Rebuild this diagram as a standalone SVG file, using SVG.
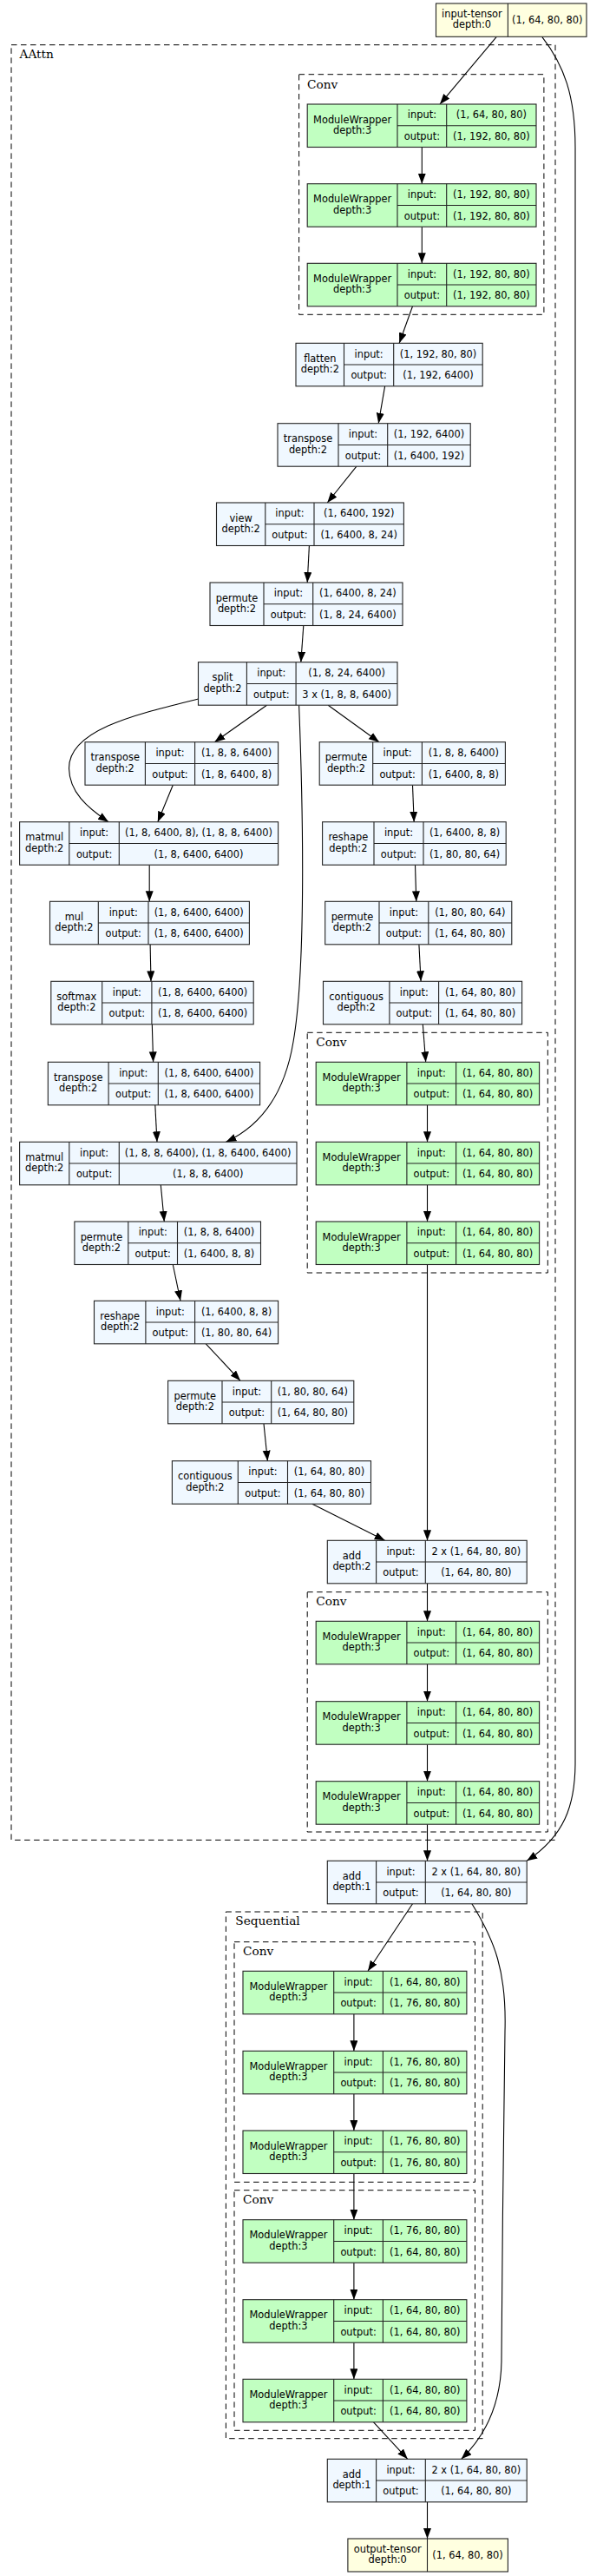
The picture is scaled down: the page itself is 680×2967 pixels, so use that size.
<svg xmlns="http://www.w3.org/2000/svg" width="680" height="2967" viewBox="0 0 680 2967">
<style>
.bg{fill:#ffffff}
.cl{fill:none;stroke:#000;stroke-width:1;stroke-dasharray:6.5,4.5}
.clt{font-family:"DejaVu Serif","Liberation Serif",serif;font-size:13.7px;fill:#000}
.nb{stroke:#222;stroke-width:1.1}
.fn{fill:#F0F8FF}
.md{fill:#C1FFC1}
.tn{fill:#FFFFE0}
.sep{stroke:#222;stroke-width:1.1}
text.t{font-family:"DejaVu Sans","Liberation Sans",sans-serif;font-size:11.4px;fill:#000;text-anchor:middle}
.e{fill:none;stroke:#000;stroke-width:1.1;marker-end:url(#ah)}
</style>
<defs>
<marker id="ah" markerUnits="userSpaceOnUse" markerWidth="12" markerHeight="10" refX="12" refY="4.5" orient="auto">
<polygon points="0,0 12,4.5 0,9" fill="#000"/>
</marker>
</defs>
<rect class="bg" x="0" y="0" width="680" height="2967"/>

<g id="clusters">
<g id="cl_aattn"><rect class="cl" x="13" y="51.7" width="627" height="2067.6"/><text class="clt" x="22.6" y="66.7">AAttn</text></g>
<g id="cl_conv1"><rect class="cl" x="344.6" y="85.7" width="282.3" height="276.6"/><text class="clt" x="354" y="101.7">Conv</text></g>
<g id="cl_conv2"><rect class="cl" x="354.2" y="1189.3" width="277.1" height="276.7"/><text class="clt" x="364.2" y="1205">Conv</text></g>
<g id="cl_conv3"><rect class="cl" x="354.2" y="1833.7" width="277.1" height="276.3"/><text class="clt" x="364.2" y="1849.3">Conv</text></g>
<g id="cl_seq"><rect class="cl" x="260.4" y="2202" width="295.8" height="606.7"/><text class="clt" x="271.3" y="2217.3">Sequential</text></g>
<g id="cl_conv4"><rect class="cl" x="270" y="2236.7" width="277.5" height="276.6"/><text class="clt" x="280" y="2251.7">Conv</text></g>
<g id="cl_conv5"><rect class="cl" x="270" y="2522.7" width="277.5" height="276.6"/><text class="clt" x="280" y="2538.3">Conv</text></g>
</g>

<g id="connectors">
<path class="e" d="M572.3,42.3 L507,120"/>
<path class="e" d="M624.7,42.3 C650,75 663,110 663,170 L663,2030 C663,2080 650,2115 607.2,2143.3"/>
<path class="e" d="M486.3,169.3 L486.3,211.7"/>
<path class="e" d="M486.3,261.2 L486.3,303.3"/>
<path class="e" d="M475.5,352.8 L460.2,395.3"/>
<path class="e" d="M443.6,444.8 L436.2,487.7"/>
<path class="e" d="M410.9,537.2 L377.3,579"/>
<path class="e" d="M356.4,628.5 L354.2,671"/>
<path class="e" d="M349.8,720.5 L346.8,762.7"/>
<path class="e" d="M228.5,805 C160,822 79,840 79.5,885 C80,912 100,930 125.1,946.7"/>
<path class="e" d="M307.5,812.2 L247.3,854.7"/>
<path class="e" d="M344.6,812.2 C350,950 352,1120 338,1200 C328,1260 300,1297 260.4,1315.3"/>
<path class="e" d="M378.2,812.2 L437,854.7"/>
<path class="e" d="M199.3,904.2 L181.8,946.7"/>
<path class="e" d="M475.5,904.2 L477.2,946.7"/>
<path class="e" d="M172.2,996.2 L172.2,1038.3"/>
<path class="e" d="M478.5,996.2 L479.8,1038.3"/>
<path class="e" d="M173.1,1087.8 L174,1130.3"/>
<path class="e" d="M482.9,1087.8 L485.1,1130.3"/>
<path class="e" d="M175.3,1179.8 L176.6,1223.3"/>
<path class="e" d="M487.3,1179.8 L490.7,1223.3"/>
<path class="e" d="M178.8,1272.8 L181,1315.3"/>
<path class="e" d="M492.5,1272.8 L492.5,1315.3"/>
<path class="e" d="M492.5,1364.8 L492.5,1407"/>
<path class="e" d="M185.3,1364.8 L189.3,1407"/>
<path class="e" d="M199.3,1456.5 L208,1498.3"/>
<path class="e" d="M237.3,1547.8 L277,1590.3"/>
<path class="e" d="M304,1639.8 L308.4,1682.7"/>
<path class="e" d="M359.9,1732.2 L443.6,1774.3"/>
<path class="e" d="M492.5,1456.5 L492.5,1774.3"/>
<path class="e" d="M492.5,1823.8 L492.5,1867.3"/>
<path class="e" d="M492.5,1916.8 L492.5,1959.7"/>
<path class="e" d="M492.5,2009.2 L492.5,2051.7"/>
<path class="e" d="M492.5,2101.2 L492.5,2143.3"/>
<path class="e" d="M475.5,2192.8 L424,2270.3"/>
<path class="e" d="M543.9,2192.8 C570,2235 584,2270 582,2340 C580,2450 579,2600 578,2720 C577,2770 560,2805 531.7,2832.3"/>
<path class="e" d="M407.9,2319.8 L407.9,2362.3"/>
<path class="e" d="M407.9,2411.8 L407.9,2454"/>
<path class="e" d="M407.9,2503.5 L407.9,2556.7"/>
<path class="e" d="M407.9,2606.2 L407.9,2648.7"/>
<path class="e" d="M407.9,2698.2 L407.9,2740.3"/>
<path class="e" d="M430.5,2789.8 L469.8,2832.3"/>
<path class="e" d="M492.5,2881.8 L492.5,2924"/>
</g>

<g id="n_input">
<rect class="nb tn" x="502.5" y="4" width="173.5" height="38.3"/>
<line class="sep" x1="585.4" y1="4" x2="585.4" y2="42.3"/>
<text class="t" x="543.9" y="19.9">input-tensor</text><text class="t" x="543.9" y="32.4">depth:0</text>
<text class="t" x="630.7" y="26.9">(1, 64, 80, 80)</text>
</g>

<g id="n_c1_mw1">
<rect class="nb md" x="354.2" y="120" width="263.8" height="49.5"/>
<line class="sep" x1="458" y1="120" x2="458" y2="169.5"/><line class="sep" x1="514.7" y1="120" x2="514.7" y2="169.5"/><line class="sep" x1="458" y1="144.75" x2="618" y2="144.75"/>
<text class="t" x="406.1" y="141.6">ModuleWrapper</text><text class="t" x="406.1" y="154.1">depth:3</text>
<text class="t" x="486.4" y="136.2">input:</text><text class="t" x="486.4" y="160.9">output:</text>
<text class="t" x="566.4" y="136.2">(1, 64, 80, 80)</text><text class="t" x="566.4" y="160.9">(1, 192, 80, 80)</text>
</g>
<g id="n_c1_mw2">
<rect class="nb md" x="354.2" y="211.7" width="263.8" height="49.5"/>
<line class="sep" x1="458" y1="211.7" x2="458" y2="261.2"/><line class="sep" x1="514.7" y1="211.7" x2="514.7" y2="261.2"/><line class="sep" x1="458" y1="236.45" x2="618" y2="236.45"/>
<text class="t" x="406.1" y="233.3">ModuleWrapper</text><text class="t" x="406.1" y="245.8">depth:3</text>
<text class="t" x="486.4" y="227.9">input:</text><text class="t" x="486.4" y="252.6">output:</text>
<text class="t" x="566.4" y="227.9">(1, 192, 80, 80)</text><text class="t" x="566.4" y="252.6">(1, 192, 80, 80)</text>
</g>
<g id="n_c1_mw3">
<rect class="nb md" x="354.2" y="303.3" width="263.8" height="49.5"/>
<line class="sep" x1="458" y1="303.3" x2="458" y2="352.8"/><line class="sep" x1="514.7" y1="303.3" x2="514.7" y2="352.8"/><line class="sep" x1="458" y1="328.05" x2="618" y2="328.05"/>
<text class="t" x="406.1" y="324.9">ModuleWrapper</text><text class="t" x="406.1" y="337.4">depth:3</text>
<text class="t" x="486.4" y="319.5">input:</text><text class="t" x="486.4" y="344.2">output:</text>
<text class="t" x="566.4" y="319.5">(1, 192, 80, 80)</text><text class="t" x="566.4" y="344.2">(1, 192, 80, 80)</text>
</g>

<g id="n_flatten">
<rect class="nb fn" x="341" y="395.3" width="215.2" height="49.5"/>
<line class="sep" x1="396.5" y1="395.3" x2="396.5" y2="444.8"/><line class="sep" x1="453.7" y1="395.3" x2="453.7" y2="444.8"/><line class="sep" x1="396.5" y1="420.05" x2="556.2" y2="420.05"/>
<text class="t" x="368.8" y="416.9">flatten</text><text class="t" x="368.8" y="429.4">depth:2</text>
<text class="t" x="425.1" y="411.5">input:</text><text class="t" x="425.1" y="436.2">output:</text>
<text class="t" x="505" y="411.5">(1, 192, 80, 80)</text><text class="t" x="505" y="436.2">(1, 192, 6400)</text>
</g>
<g id="n_transpose1">
<rect class="nb fn" x="320" y="487.7" width="222.2" height="49.5"/>
<line class="sep" x1="390" y1="487.7" x2="390" y2="537.2"/><line class="sep" x1="446.7" y1="487.7" x2="446.7" y2="537.2"/><line class="sep" x1="390" y1="512.45" x2="542.2" y2="512.45"/>
<text class="t" x="355" y="509.3">transpose</text><text class="t" x="355" y="521.8">depth:2</text>
<text class="t" x="418.4" y="503.9">input:</text><text class="t" x="418.4" y="528.6">output:</text>
<text class="t" x="494.5" y="503.9">(1, 192, 6400)</text><text class="t" x="494.5" y="528.6">(1, 6400, 192)</text>
</g>
<g id="n_view">
<rect class="nb fn" x="249.5" y="579" width="215.9" height="49.5"/>
<line class="sep" x1="305.8" y1="579" x2="305.8" y2="628.5"/><line class="sep" x1="362" y1="579" x2="362" y2="628.5"/><line class="sep" x1="305.8" y1="603.75" x2="465.4" y2="603.75"/>
<text class="t" x="277.7" y="600.6">view</text><text class="t" x="277.7" y="613.1">depth:2</text>
<text class="t" x="333.9" y="595.2">input:</text><text class="t" x="333.9" y="619.9">output:</text>
<text class="t" x="413.7" y="595.2">(1, 6400, 192)</text><text class="t" x="413.7" y="619.9">(1, 6400, 8, 24)</text>
</g>
<g id="n_permute1">
<rect class="nb fn" x="242" y="671" width="222" height="49.5"/>
<line class="sep" x1="304" y1="671" x2="304" y2="720.5"/><line class="sep" x1="360.7" y1="671" x2="360.7" y2="720.5"/><line class="sep" x1="304" y1="695.75" x2="464" y2="695.75"/>
<text class="t" x="273" y="692.6">permute</text><text class="t" x="273" y="705.1">depth:2</text>
<text class="t" x="332.4" y="687.2">input:</text><text class="t" x="332.4" y="711.9">output:</text>
<text class="t" x="412.4" y="687.2">(1, 6400, 8, 24)</text><text class="t" x="412.4" y="711.9">(1, 8, 24, 6400)</text>
</g>
<g id="n_split">
<rect class="nb fn" x="228.5" y="762.7" width="229.5" height="49.5"/>
<line class="sep" x1="284.4" y1="762.7" x2="284.4" y2="812.2"/><line class="sep" x1="341.1" y1="762.7" x2="341.1" y2="812.2"/><line class="sep" x1="284.4" y1="787.45" x2="458" y2="787.45"/>
<text class="t" x="256.5" y="784.3">split</text><text class="t" x="256.5" y="796.8">depth:2</text>
<text class="t" x="312.8" y="778.9">input:</text><text class="t" x="312.8" y="803.6">output:</text>
<text class="t" x="399.6" y="778.9">(1, 8, 24, 6400)</text><text class="t" x="399.6" y="803.6">3 x (1, 8, 8, 6400)</text>
</g>
<g id="n_transpose2">
<rect class="nb fn" x="98" y="854.7" width="222.6" height="49.5"/>
<line class="sep" x1="167.4" y1="854.7" x2="167.4" y2="904.2"/><line class="sep" x1="224.6" y1="854.7" x2="224.6" y2="904.2"/><line class="sep" x1="167.4" y1="879.45" x2="320.6" y2="879.45"/>
<text class="t" x="132.7" y="876.3">transpose</text><text class="t" x="132.7" y="888.8">depth:2</text>
<text class="t" x="196" y="870.9">input:</text><text class="t" x="196" y="895.6">output:</text>
<text class="t" x="272.6" y="870.9">(1, 8, 8, 6400)</text><text class="t" x="272.6" y="895.6">(1, 8, 6400, 8)</text>
</g>
<g id="n_permute2">
<rect class="nb fn" x="368.2" y="854.7" width="214.2" height="49.5"/>
<line class="sep" x1="429.7" y1="854.7" x2="429.7" y2="904.2"/><line class="sep" x1="486.4" y1="854.7" x2="486.4" y2="904.2"/><line class="sep" x1="429.7" y1="879.45" x2="582.4" y2="879.45"/>
<text class="t" x="399" y="876.3">permute</text><text class="t" x="399" y="888.8">depth:2</text>
<text class="t" x="458.1" y="870.9">input:</text><text class="t" x="458.1" y="895.6">output:</text>
<text class="t" x="534.4" y="870.9">(1, 8, 8, 6400)</text><text class="t" x="534.4" y="895.6">(1, 6400, 8, 8)</text>
</g>
<g id="n_matmul1">
<rect class="nb fn" x="22.6" y="946.7" width="298" height="49.5"/>
<line class="sep" x1="79.8" y1="946.7" x2="79.8" y2="996.2"/><line class="sep" x1="137.3" y1="946.7" x2="137.3" y2="996.2"/><line class="sep" x1="79.8" y1="971.45" x2="320.6" y2="971.45"/>
<text class="t" x="51.2" y="968.3">matmul</text><text class="t" x="51.2" y="980.8">depth:2</text>
<text class="t" x="108.6" y="962.9">input:</text><text class="t" x="108.6" y="987.6">output:</text>
<text class="t" x="229" y="962.9">(1, 8, 6400, 8), (1, 8, 8, 6400)</text><text class="t" x="229" y="987.6">(1, 8, 6400, 6400)</text>
</g>
<g id="n_reshape1">
<rect class="nb fn" x="371.6" y="946.7" width="211.6" height="49.5"/>
<line class="sep" x1="431" y1="946.7" x2="431" y2="996.2"/><line class="sep" x1="488" y1="946.7" x2="488" y2="996.2"/><line class="sep" x1="431" y1="971.45" x2="583.2" y2="971.45"/>
<text class="t" x="401.3" y="968.3">reshape</text><text class="t" x="401.3" y="980.8">depth:2</text>
<text class="t" x="459.5" y="962.9">input:</text><text class="t" x="459.5" y="987.6">output:</text>
<text class="t" x="535.6" y="962.9">(1, 6400, 8, 8)</text><text class="t" x="535.6" y="987.6">(1, 80, 80, 64)</text>
</g>
<g id="n_mul">
<rect class="nb fn" x="57.5" y="1038.3" width="229.9" height="49.5"/>
<line class="sep" x1="113.3" y1="1038.3" x2="113.3" y2="1087.8"/><line class="sep" x1="171" y1="1038.3" x2="171" y2="1087.8"/><line class="sep" x1="113.3" y1="1063.05" x2="287.4" y2="1063.05"/>
<text class="t" x="85.4" y="1059.9">mul</text><text class="t" x="85.4" y="1072.4">depth:2</text>
<text class="t" x="142.2" y="1054.5">input:</text><text class="t" x="142.2" y="1079.2">output:</text>
<text class="t" x="229.2" y="1054.5">(1, 8, 6400, 6400)</text><text class="t" x="229.2" y="1079.2">(1, 8, 6400, 6400)</text>
</g>
<g id="n_permute3">
<rect class="nb fn" x="374.7" y="1038.3" width="215.1" height="49.5"/>
<line class="sep" x1="437" y1="1038.3" x2="437" y2="1087.8"/><line class="sep" x1="493.8" y1="1038.3" x2="493.8" y2="1087.8"/><line class="sep" x1="437" y1="1063.05" x2="589.8" y2="1063.05"/>
<text class="t" x="405.9" y="1059.9">permute</text><text class="t" x="405.9" y="1072.4">depth:2</text>
<text class="t" x="465.4" y="1054.5">input:</text><text class="t" x="465.4" y="1079.2">output:</text>
<text class="t" x="541.8" y="1054.5">(1, 80, 80, 64)</text><text class="t" x="541.8" y="1079.2">(1, 64, 80, 80)</text>
</g>
<g id="n_softmax">
<rect class="nb fn" x="58.8" y="1130.3" width="233.4" height="49.5"/>
<line class="sep" x1="117.7" y1="1130.3" x2="117.7" y2="1179.8"/><line class="sep" x1="174.9" y1="1130.3" x2="174.9" y2="1179.8"/><line class="sep" x1="117.7" y1="1155.05" x2="292.2" y2="1155.05"/>
<text class="t" x="88.3" y="1151.9">softmax</text><text class="t" x="88.3" y="1164.4">depth:2</text>
<text class="t" x="146.3" y="1146.5">input:</text><text class="t" x="146.3" y="1171.2">output:</text>
<text class="t" x="233.6" y="1146.5">(1, 8, 6400, 6400)</text><text class="t" x="233.6" y="1171.2">(1, 8, 6400, 6400)</text>
</g>
<g id="n_contiguous1">
<rect class="nb fn" x="372.5" y="1130.3" width="229.1" height="49.5"/>
<line class="sep" x1="448.9" y1="1130.3" x2="448.9" y2="1179.8"/><line class="sep" x1="505.6" y1="1130.3" x2="505.6" y2="1179.8"/><line class="sep" x1="448.9" y1="1155.05" x2="601.6" y2="1155.05"/>
<text class="t" x="410.7" y="1151.9">contiguous</text><text class="t" x="410.7" y="1164.4">depth:2</text>
<text class="t" x="477.3" y="1146.5">input:</text><text class="t" x="477.3" y="1171.2">output:</text>
<text class="t" x="553.6" y="1146.5">(1, 64, 80, 80)</text><text class="t" x="553.6" y="1171.2">(1, 64, 80, 80)</text>
</g>
<g id="n_transpose3">
<rect class="nb fn" x="55.3" y="1223.3" width="244.3" height="49.5"/>
<line class="sep" x1="125.1" y1="1223.3" x2="125.1" y2="1272.8"/><line class="sep" x1="182.3" y1="1223.3" x2="182.3" y2="1272.8"/><line class="sep" x1="125.1" y1="1248.05" x2="299.6" y2="1248.05"/>
<text class="t" x="90.2" y="1244.9">transpose</text><text class="t" x="90.2" y="1257.4">depth:2</text>
<text class="t" x="153.7" y="1239.5">input:</text><text class="t" x="153.7" y="1264.2">output:</text>
<text class="t" x="241" y="1239.5">(1, 8, 6400, 6400)</text><text class="t" x="241" y="1264.2">(1, 8, 6400, 6400)</text>
</g>
<g id="n_c2_mw1">
<rect class="nb md" x="364.2" y="1223.3" width="257.4" height="49.5"/>
<line class="sep" x1="468.9" y1="1223.3" x2="468.9" y2="1272.8"/><line class="sep" x1="525.6" y1="1223.3" x2="525.6" y2="1272.8"/><line class="sep" x1="468.9" y1="1248.05" x2="621.6" y2="1248.05"/>
<text class="t" x="416.6" y="1244.9">ModuleWrapper</text><text class="t" x="416.6" y="1257.4">depth:3</text>
<text class="t" x="497.3" y="1239.5">input:</text><text class="t" x="497.3" y="1264.2">output:</text>
<text class="t" x="573.6" y="1239.5">(1, 64, 80, 80)</text><text class="t" x="573.6" y="1264.2">(1, 64, 80, 80)</text>
</g>
<g id="n_c2_mw2">
<rect class="nb md" x="364.2" y="1315.3" width="257.4" height="49.5"/>
<line class="sep" x1="468.9" y1="1315.3" x2="468.9" y2="1364.8"/><line class="sep" x1="525.6" y1="1315.3" x2="525.6" y2="1364.8"/><line class="sep" x1="468.9" y1="1340.05" x2="621.6" y2="1340.05"/>
<text class="t" x="416.6" y="1336.9">ModuleWrapper</text><text class="t" x="416.6" y="1349.4">depth:3</text>
<text class="t" x="497.3" y="1331.5">input:</text><text class="t" x="497.3" y="1356.2">output:</text>
<text class="t" x="573.6" y="1331.5">(1, 64, 80, 80)</text><text class="t" x="573.6" y="1356.2">(1, 64, 80, 80)</text>
</g>
<g id="n_c2_mw3">
<rect class="nb md" x="364.2" y="1407" width="257.4" height="49.5"/>
<line class="sep" x1="468.9" y1="1407" x2="468.9" y2="1456.5"/><line class="sep" x1="525.6" y1="1407" x2="525.6" y2="1456.5"/><line class="sep" x1="468.9" y1="1431.75" x2="621.6" y2="1431.75"/>
<text class="t" x="416.6" y="1428.6">ModuleWrapper</text><text class="t" x="416.6" y="1441.1">depth:3</text>
<text class="t" x="497.3" y="1423.2">input:</text><text class="t" x="497.3" y="1447.9">output:</text>
<text class="t" x="573.6" y="1423.2">(1, 64, 80, 80)</text><text class="t" x="573.6" y="1447.9">(1, 64, 80, 80)</text>
</g>
<g id="n_matmul2">
<rect class="nb fn" x="22.6" y="1315.3" width="319.4" height="49.5"/>
<line class="sep" x1="79.8" y1="1315.3" x2="79.8" y2="1364.8"/><line class="sep" x1="137.3" y1="1315.3" x2="137.3" y2="1364.8"/><line class="sep" x1="79.8" y1="1340.05" x2="342" y2="1340.05"/>
<text class="t" x="51.2" y="1336.9">matmul</text><text class="t" x="51.2" y="1349.4">depth:2</text>
<text class="t" x="108.6" y="1331.5">input:</text><text class="t" x="108.6" y="1356.2">output:</text>
<text class="t" x="239.7" y="1331.5">(1, 8, 8, 6400), (1, 8, 6400, 6400)</text><text class="t" x="239.7" y="1356.2">(1, 8, 8, 6400)</text>
</g>
<g id="n_permute4">
<rect class="nb fn" x="85.9" y="1407" width="214.6" height="49.5"/>
<line class="sep" x1="147.8" y1="1407" x2="147.8" y2="1456.5"/><line class="sep" x1="204.5" y1="1407" x2="204.5" y2="1456.5"/><line class="sep" x1="147.8" y1="1431.75" x2="300.5" y2="1431.75"/>
<text class="t" x="116.9" y="1428.6">permute</text><text class="t" x="116.9" y="1441.1">depth:2</text>
<text class="t" x="176.2" y="1423.2">input:</text><text class="t" x="176.2" y="1447.9">output:</text>
<text class="t" x="252.5" y="1423.2">(1, 8, 8, 6400)</text><text class="t" x="252.5" y="1447.9">(1, 6400, 8, 8)</text>
</g>
<g id="n_reshape2">
<rect class="nb fn" x="108.5" y="1498.3" width="212.1" height="49.5"/>
<line class="sep" x1="167.9" y1="1498.3" x2="167.9" y2="1547.8"/><line class="sep" x1="224.6" y1="1498.3" x2="224.6" y2="1547.8"/><line class="sep" x1="167.9" y1="1523.05" x2="320.6" y2="1523.05"/>
<text class="t" x="138.2" y="1519.9">reshape</text><text class="t" x="138.2" y="1532.4">depth:2</text>
<text class="t" x="196.3" y="1514.5">input:</text><text class="t" x="196.3" y="1539.2">output:</text>
<text class="t" x="272.6" y="1514.5">(1, 6400, 8, 8)</text><text class="t" x="272.6" y="1539.2">(1, 80, 80, 64)</text>
</g>
<g id="n_permute5">
<rect class="nb fn" x="193.6" y="1590.3" width="214.2" height="49.5"/>
<line class="sep" x1="256" y1="1590.3" x2="256" y2="1639.8"/><line class="sep" x1="312.7" y1="1590.3" x2="312.7" y2="1639.8"/><line class="sep" x1="256" y1="1615.05" x2="407.8" y2="1615.05"/>
<text class="t" x="224.8" y="1611.9">permute</text><text class="t" x="224.8" y="1624.4">depth:2</text>
<text class="t" x="284.4" y="1606.5">input:</text><text class="t" x="284.4" y="1631.2">output:</text>
<text class="t" x="360.3" y="1606.5">(1, 80, 80, 64)</text><text class="t" x="360.3" y="1631.2">(1, 64, 80, 80)</text>
</g>
<g id="n_contiguous2">
<rect class="nb fn" x="198.4" y="1682.7" width="229.1" height="49.5"/>
<line class="sep" x1="274.3" y1="1682.7" x2="274.3" y2="1732.2"/><line class="sep" x1="331.5" y1="1682.7" x2="331.5" y2="1732.2"/><line class="sep" x1="274.3" y1="1707.45" x2="427.5" y2="1707.45"/>
<text class="t" x="236.4" y="1704.3">contiguous</text><text class="t" x="236.4" y="1716.8">depth:2</text>
<text class="t" x="302.9" y="1698.9">input:</text><text class="t" x="302.9" y="1723.6">output:</text>
<text class="t" x="379.5" y="1698.9">(1, 64, 80, 80)</text><text class="t" x="379.5" y="1723.6">(1, 64, 80, 80)</text>
</g>
<g id="n_add2">
<rect class="nb fn" x="377.3" y="1774.3" width="229.9" height="49.5"/>
<line class="sep" x1="433.6" y1="1774.3" x2="433.6" y2="1823.8"/><line class="sep" x1="490.3" y1="1774.3" x2="490.3" y2="1823.8"/><line class="sep" x1="433.6" y1="1799.05" x2="607.2" y2="1799.05"/>
<text class="t" x="405.5" y="1795.9">add</text><text class="t" x="405.5" y="1808.4">depth:2</text>
<text class="t" x="462" y="1790.5">input:</text><text class="t" x="462" y="1815.2">output:</text>
<text class="t" x="548.8" y="1790.5">2 x (1, 64, 80, 80)</text><text class="t" x="548.8" y="1815.2">(1, 64, 80, 80)</text>
</g>
<g id="n_c3_mw1">
<rect class="nb md" x="364.2" y="1867.3" width="257.4" height="49.5"/>
<line class="sep" x1="468.9" y1="1867.3" x2="468.9" y2="1916.8"/><line class="sep" x1="525.6" y1="1867.3" x2="525.6" y2="1916.8"/><line class="sep" x1="468.9" y1="1892.05" x2="621.6" y2="1892.05"/>
<text class="t" x="416.6" y="1888.9">ModuleWrapper</text><text class="t" x="416.6" y="1901.4">depth:3</text>
<text class="t" x="497.3" y="1883.5">input:</text><text class="t" x="497.3" y="1908.2">output:</text>
<text class="t" x="573.6" y="1883.5">(1, 64, 80, 80)</text><text class="t" x="573.6" y="1908.2">(1, 64, 80, 80)</text>
</g>
<g id="n_c3_mw2">
<rect class="nb md" x="364.2" y="1959.7" width="257.4" height="49.5"/>
<line class="sep" x1="468.9" y1="1959.7" x2="468.9" y2="2009.2"/><line class="sep" x1="525.6" y1="1959.7" x2="525.6" y2="2009.2"/><line class="sep" x1="468.9" y1="1984.45" x2="621.6" y2="1984.45"/>
<text class="t" x="416.6" y="1981.3">ModuleWrapper</text><text class="t" x="416.6" y="1993.8">depth:3</text>
<text class="t" x="497.3" y="1975.9">input:</text><text class="t" x="497.3" y="2000.6">output:</text>
<text class="t" x="573.6" y="1975.9">(1, 64, 80, 80)</text><text class="t" x="573.6" y="2000.6">(1, 64, 80, 80)</text>
</g>
<g id="n_c3_mw3">
<rect class="nb md" x="364.2" y="2051.7" width="257.4" height="49.5"/>
<line class="sep" x1="468.9" y1="2051.7" x2="468.9" y2="2101.2"/><line class="sep" x1="525.6" y1="2051.7" x2="525.6" y2="2101.2"/><line class="sep" x1="468.9" y1="2076.45" x2="621.6" y2="2076.45"/>
<text class="t" x="416.6" y="2073.3">ModuleWrapper</text><text class="t" x="416.6" y="2085.8">depth:3</text>
<text class="t" x="497.3" y="2067.9">input:</text><text class="t" x="497.3" y="2092.6">output:</text>
<text class="t" x="573.6" y="2067.9">(1, 64, 80, 80)</text><text class="t" x="573.6" y="2092.6">(1, 64, 80, 80)</text>
</g>
<g id="n_add1">
<rect class="nb fn" x="377.3" y="2143.3" width="229.9" height="49.5"/>
<line class="sep" x1="433.6" y1="2143.3" x2="433.6" y2="2192.8"/><line class="sep" x1="490.3" y1="2143.3" x2="490.3" y2="2192.8"/><line class="sep" x1="433.6" y1="2168.05" x2="607.2" y2="2168.05"/>
<text class="t" x="405.5" y="2164.9">add</text><text class="t" x="405.5" y="2177.4">depth:1</text>
<text class="t" x="462" y="2159.5">input:</text><text class="t" x="462" y="2184.2">output:</text>
<text class="t" x="548.8" y="2159.5">2 x (1, 64, 80, 80)</text><text class="t" x="548.8" y="2184.2">(1, 64, 80, 80)</text>
</g>
<g id="n_c4_mw1">
<rect class="nb md" x="280" y="2270.3" width="257.9" height="49.5"/>
<line class="sep" x1="384.7" y1="2270.3" x2="384.7" y2="2319.8"/><line class="sep" x1="441.4" y1="2270.3" x2="441.4" y2="2319.8"/><line class="sep" x1="384.7" y1="2295.05" x2="537.9" y2="2295.05"/>
<text class="t" x="332.4" y="2291.9">ModuleWrapper</text><text class="t" x="332.4" y="2304.4">depth:3</text>
<text class="t" x="413.1" y="2286.5">input:</text><text class="t" x="413.1" y="2311.2">output:</text>
<text class="t" x="489.7" y="2286.5">(1, 64, 80, 80)</text><text class="t" x="489.7" y="2311.2">(1, 76, 80, 80)</text>
</g>
<g id="n_c4_mw2">
<rect class="nb md" x="280" y="2362.3" width="257.9" height="49.5"/>
<line class="sep" x1="384.7" y1="2362.3" x2="384.7" y2="2411.8"/><line class="sep" x1="441.4" y1="2362.3" x2="441.4" y2="2411.8"/><line class="sep" x1="384.7" y1="2387.05" x2="537.9" y2="2387.05"/>
<text class="t" x="332.4" y="2383.9">ModuleWrapper</text><text class="t" x="332.4" y="2396.4">depth:3</text>
<text class="t" x="413.1" y="2378.5">input:</text><text class="t" x="413.1" y="2403.2">output:</text>
<text class="t" x="489.7" y="2378.5">(1, 76, 80, 80)</text><text class="t" x="489.7" y="2403.2">(1, 76, 80, 80)</text>
</g>
<g id="n_c4_mw3">
<rect class="nb md" x="280" y="2454" width="257.9" height="49.5"/>
<line class="sep" x1="384.7" y1="2454" x2="384.7" y2="2503.5"/><line class="sep" x1="441.4" y1="2454" x2="441.4" y2="2503.5"/><line class="sep" x1="384.7" y1="2478.75" x2="537.9" y2="2478.75"/>
<text class="t" x="332.4" y="2475.6">ModuleWrapper</text><text class="t" x="332.4" y="2488.1">depth:3</text>
<text class="t" x="413.1" y="2470.2">input:</text><text class="t" x="413.1" y="2494.9">output:</text>
<text class="t" x="489.7" y="2470.2">(1, 76, 80, 80)</text><text class="t" x="489.7" y="2494.9">(1, 76, 80, 80)</text>
</g>
<g id="n_c5_mw1">
<rect class="nb md" x="280" y="2556.7" width="257.9" height="49.5"/>
<line class="sep" x1="384.7" y1="2556.7" x2="384.7" y2="2606.2"/><line class="sep" x1="441.4" y1="2556.7" x2="441.4" y2="2606.2"/><line class="sep" x1="384.7" y1="2581.45" x2="537.9" y2="2581.45"/>
<text class="t" x="332.4" y="2578.3">ModuleWrapper</text><text class="t" x="332.4" y="2590.8">depth:3</text>
<text class="t" x="413.1" y="2572.9">input:</text><text class="t" x="413.1" y="2597.6">output:</text>
<text class="t" x="489.7" y="2572.9">(1, 76, 80, 80)</text><text class="t" x="489.7" y="2597.6">(1, 64, 80, 80)</text>
</g>
<g id="n_c5_mw2">
<rect class="nb md" x="280" y="2648.7" width="257.9" height="49.5"/>
<line class="sep" x1="384.7" y1="2648.7" x2="384.7" y2="2698.2"/><line class="sep" x1="441.4" y1="2648.7" x2="441.4" y2="2698.2"/><line class="sep" x1="384.7" y1="2673.45" x2="537.9" y2="2673.45"/>
<text class="t" x="332.4" y="2670.3">ModuleWrapper</text><text class="t" x="332.4" y="2682.8">depth:3</text>
<text class="t" x="413.1" y="2664.9">input:</text><text class="t" x="413.1" y="2689.6">output:</text>
<text class="t" x="489.7" y="2664.9">(1, 64, 80, 80)</text><text class="t" x="489.7" y="2689.6">(1, 64, 80, 80)</text>
</g>
<g id="n_c5_mw3">
<rect class="nb md" x="280" y="2740.3" width="257.9" height="49.5"/>
<line class="sep" x1="384.7" y1="2740.3" x2="384.7" y2="2789.8"/><line class="sep" x1="441.4" y1="2740.3" x2="441.4" y2="2789.8"/><line class="sep" x1="384.7" y1="2765.05" x2="537.9" y2="2765.05"/>
<text class="t" x="332.4" y="2761.9">ModuleWrapper</text><text class="t" x="332.4" y="2774.4">depth:3</text>
<text class="t" x="413.1" y="2756.5">input:</text><text class="t" x="413.1" y="2781.2">output:</text>
<text class="t" x="489.7" y="2756.5">(1, 64, 80, 80)</text><text class="t" x="489.7" y="2781.2">(1, 64, 80, 80)</text>
</g>
<g id="n_add3">
<rect class="nb fn" x="377.3" y="2832.3" width="229.9" height="49.5"/>
<line class="sep" x1="433.6" y1="2832.3" x2="433.6" y2="2881.8"/><line class="sep" x1="490.3" y1="2832.3" x2="490.3" y2="2881.8"/><line class="sep" x1="433.6" y1="2857.05" x2="607.2" y2="2857.05"/>
<text class="t" x="405.5" y="2853.9">add</text><text class="t" x="405.5" y="2866.4">depth:1</text>
<text class="t" x="462" y="2848.5">input:</text><text class="t" x="462" y="2873.2">output:</text>
<text class="t" x="548.8" y="2848.5">2 x (1, 64, 80, 80)</text><text class="t" x="548.8" y="2873.2">(1, 64, 80, 80)</text>
</g>
<g id="n_output">
<rect class="nb tn" x="400.9" y="2924" width="184.5" height="38"/>
<line class="sep" x1="492.5" y1="2924" x2="492.5" y2="2962"/>
<text class="t" x="446.7" y="2939.8">output-tensor</text><text class="t" x="446.7" y="2952.3">depth:0</text>
<text class="t" x="539" y="2946.8">(1, 64, 80, 80)</text>
</g>
</svg>
